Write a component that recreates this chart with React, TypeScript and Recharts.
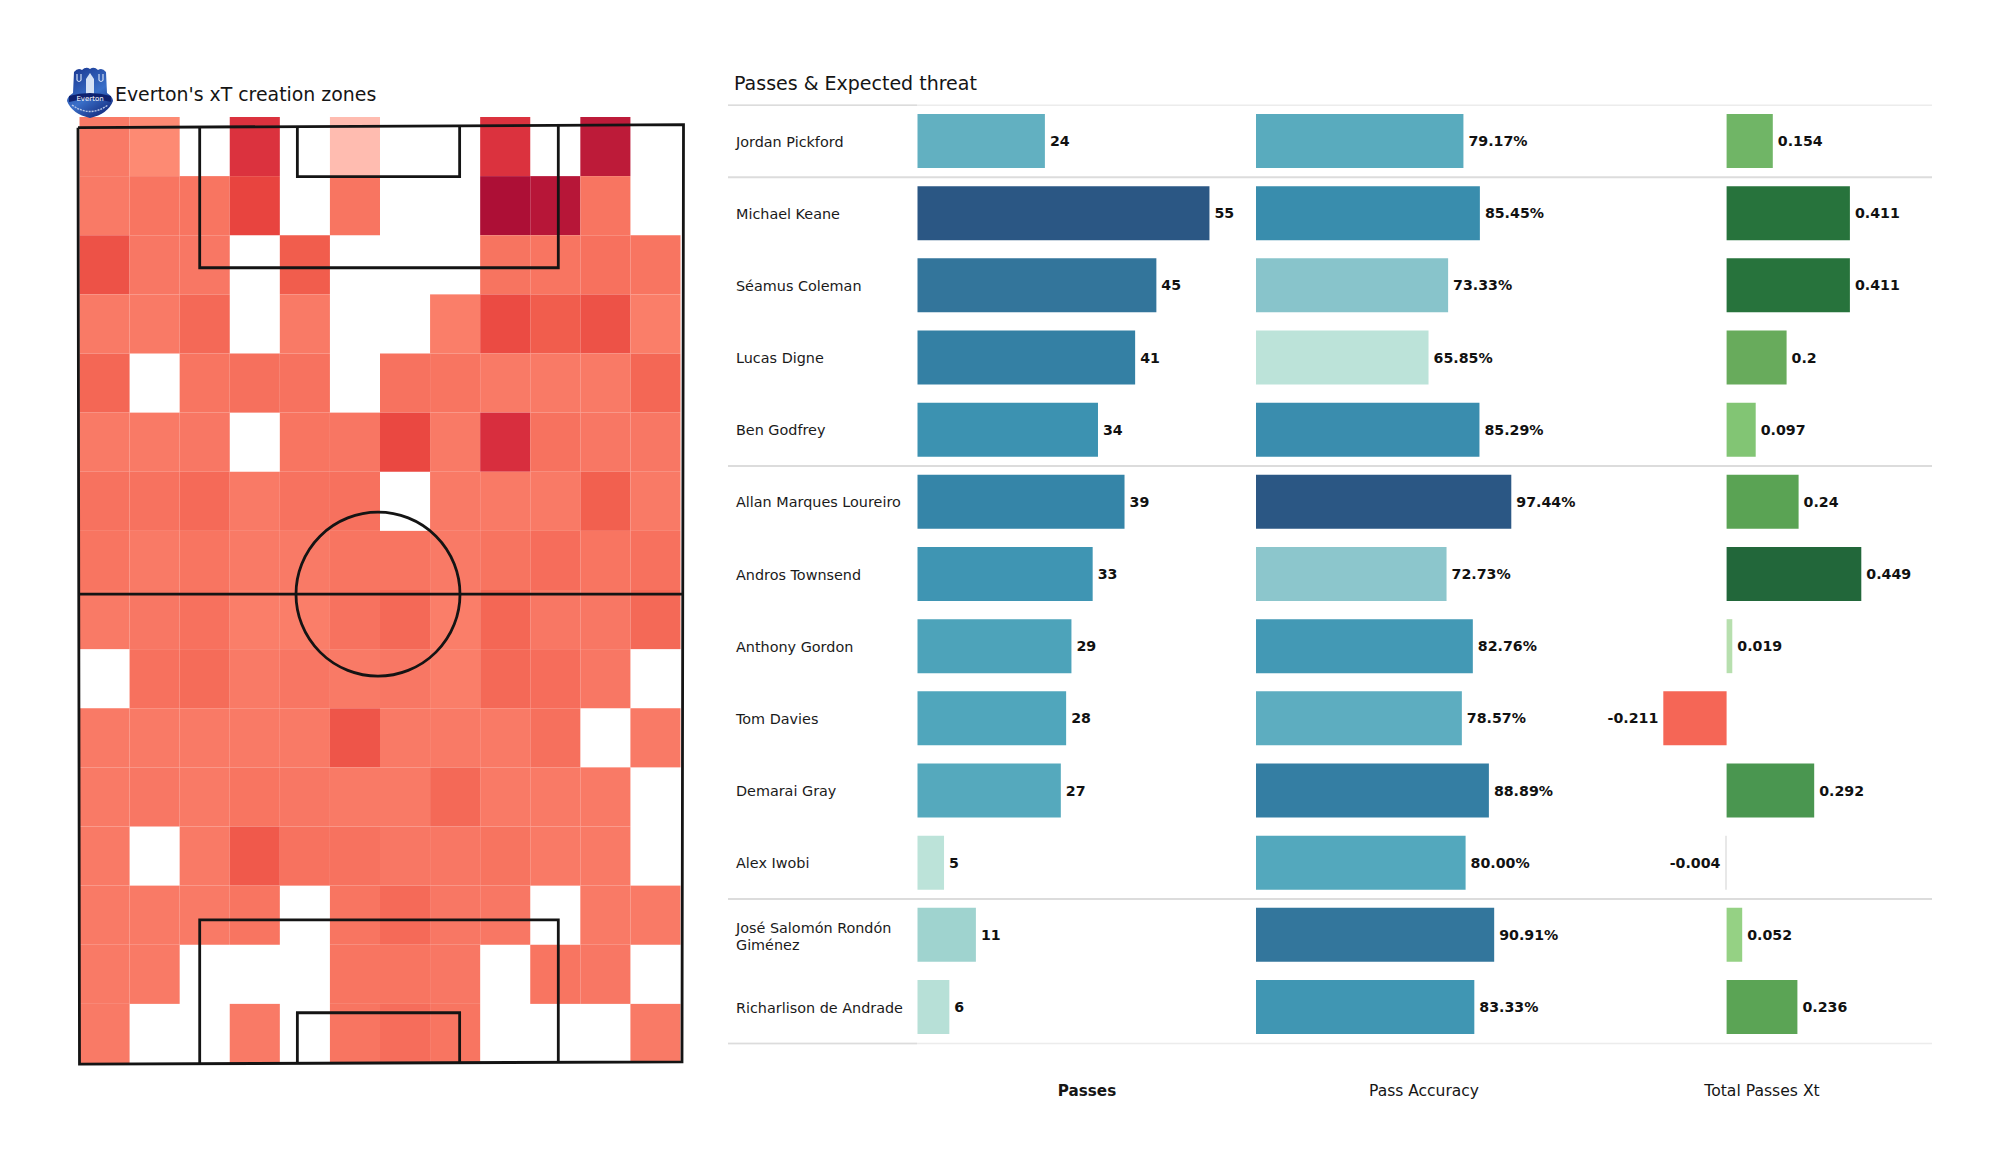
import { BarChart, Bar, Cell, LabelList, Scatter, ScatterChart, XAxis, YAxis } from 'recharts'

const FONT = '"DejaVu Sans", sans-serif'

const players = [
  'Jordan Pickford',
  'Michael Keane',
  'Séamus Coleman',
  'Lucas Digne',
  'Ben Godfrey',
  'Allan Marques Loureiro',
  'Andros Townsend',
  'Anthony Gordon',
  'Tom Davies',
  'Demarai Gray',
  'Alex Iwobi',
  'José Salomón Rondón Giménez',
  'Richarlison de Andrade',
]
const passes = [24, 55, 45, 41, 34, 39, 33, 29, 28, 27, 5, 11, 6]
const accuracy = [79.17, 85.45, 73.33, 65.85, 85.29, 97.44, 72.73, 82.76, 78.57, 88.89, 80.0, 90.91, 83.33]
const passesXt = [0.154, 0.411, 0.411, 0.2, 0.097, 0.24, 0.449, 0.019, -0.211, 0.292, -0.004, 0.052, 0.236]
const groupBreaks = [1, 5, 11]

// xT per zone, top row first, null = nothing created there
const _ = null
const zones = [
  [0.2, 0.12, _, 0.75, _, 0, _, _, 0.75, _, 0.92, _],
  [0.2, 0.24, 0.24, 0.6, _, 0.24, _, _, 1, 0.95, 0.24, _],
  [0.5, 0.22, 0.22, _, 0.42, _, _, _, 0.25, 0.24, 0.27, 0.24],
  [0.2, 0.2, 0.33, _, 0.2, _, _, 0.18, 0.55, 0.42, 0.5, 0.18],
  [0.35, _, 0.24, 0.28, 0.26, _, 0.26, 0.24, 0.2, 0.2, 0.2, 0.35],
  [0.2, 0.2, 0.22, _, 0.24, 0.23, 0.57, 0.2, 0.78, 0.26, 0.22, 0.22],
  [0.26, 0.26, 0.32, 0.2, 0.26, 0.27, _, 0.2, 0.2, 0.2, 0.4, 0.2],
  [0.24, 0.2, 0.24, 0.2, 0.2, 0.24, 0.24, 0.2, 0.25, 0.3, 0.24, 0.27],
  [0.2, 0.22, 0.27, 0.18, 0.18, 0.26, 0.33, 0.18, 0.35, 0.22, 0.22, 0.33],
  [_, 0.27, 0.31, 0.2, 0.23, 0.2, 0.22, 0.18, 0.33, 0.3, 0.22, _],
  [0.2, 0.2, 0.2, 0.2, 0.2, 0.48, 0.2, 0.2, 0.2, 0.28, _, 0.2],
  [0.2, 0.22, 0.2, 0.24, 0.22, 0.2, 0.2, 0.33, 0.2, 0.2, 0.2, _],
  [0.2, _, 0.2, 0.45, 0.26, 0.26, 0.22, 0.22, 0.25, 0.2, 0.2, _],
  [0.2, 0.2, 0.2, 0.24, _, 0.24, 0.32, 0.22, 0.22, _, 0.2, 0.2],
  [0.2, 0.2, _, _, _, 0.24, 0.24, 0.22, _, 0.24, 0.22, _],
  [0.2, _, _, 0.2, _, 0.24, 0.3, 0.24, _, _, _, 0.2],
]

const heatStops: [number, string][] = [
  [0, '#ffbcb0'], [0.12, '#fd8a73'], [0.2, '#f97a66'], [0.4, '#f2604f'],
  [0.6, '#e8443f'], [0.8, '#d62c3e'], [1, '#ad0f36'],
]
const blueStops: [number, string][] = [
  [0, '#bce3d9'], [0.12, '#9fd3cf'], [0.22, '#8cc6cc'], [0.38, '#62b0c1'], [0.46, '#50a6bc'],
  [0.58, '#3c92b1'], [0.68, '#3585a8'], [0.8, '#33759b'], [1, '#2b5784'],
]
const greenStops: [number, string][] = [
  [0.019, '#b7dfae'], [0.052, '#95d184'], [0.097, '#82c574'], [0.154, '#70b566'], [0.2, '#68ab5c'],
  [0.24, '#5aa354'], [0.292, '#4a9650'], [0.411, '#27733c'], [0.449, '#22673a'],
]

function mix(stops: [number, string][], t: number) {
  if (t <= stops[0][0]) return stops[0][1]
  for (let i = 1; i < stops.length; i++) {
    if (t <= stops[i][0]) {
      const [t0, c0] = stops[i - 1]
      const [t1, c1] = stops[i]
      const k = (t - t0) / (t1 - t0)
      const ch = (c: string, p: number) => parseInt(c.slice(p, p + 2), 16)
      const parts = [1, 3, 5].map((p) => Math.round(ch(c0, p) + (ch(c1, p) - ch(c0, p)) * k))
      return `rgb(${parts.join(',')})`
    }
  }
  return stops[stops.length - 1][1]
}

const blueFor = (list: number[], v: number) =>
  mix(blueStops, (v - Math.min(...list)) / (Math.max(...list) - Math.min(...list)))

const xtColor = (v: number) => {
  if (v < -0.1) return '#f56656'
  if (v < 0) return '#d9d9d9'
  return mix(greenStops, v)
}

const heatCells = zones.flatMap((row, r) =>
  row.flatMap((v, c) => (v === null ? [] : [{ x: c + 0.5, y: r + 0.5, v }])),
)
const tableRows = players.map((name, i) => ({ name, passes: passes[i], accuracy: accuracy[i], xt: passesXt[i] }))

const CELL_W = 601 / 12
const CELL_H = 946 / 16
const LINE = '#141414'

const HeatCell = (p: any) => (
  <rect
    x={p.cx - CELL_W / 2}
    y={p.cy - CELL_H / 2}
    width={CELL_W}
    height={CELL_H}
    fill={mix(heatStops, p.payload.v)}
  />
)

// pitch markings in zone units (the pitch in the picture is very slightly skewed)
const pitchLines = [
  [[-0.03, 0.18], [12.06, 0.13], [12.03, 15.98], [0, 16.02], [-0.03, 0.18]],
  [[-0.02, 8.07], [12.03, 8.07]],
  [[2.4, 0.16], [2.4, 2.55], [9.56, 2.55], [9.56, 0.14]],
  [[4.35, 0.16], [4.35, 1.01], [7.59, 1.01], [7.59, 0.14]],
  [[2.4, 16.01], [2.4, 13.58], [9.56, 13.58], [9.56, 15.99]],
  [[4.35, 16.01], [4.35, 15.15], [7.59, 15.15], [7.59, 16]],
]
const centreSpot = [{ x: 5.96, y: 8.07 }]

const noPoint = () => <g />
const CentreCircle = (p: any) => <circle cx={p.cx} cy={p.cy} r={82} fill="none" stroke={LINE} strokeWidth={2.8} />

const NameTick = (p: any) => {
  const name: string = p.payload.value
  const cut = name.length > 24 ? name.lastIndexOf(' ') : -1
  const lines = cut > 0 ? [name.slice(0, cut), name.slice(cut + 1)] : [name]
  return (
    <text x={8} y={p.y} fontFamily={FONT} fontSize={14.4} fill="#1a1a1a">
      {lines.map((l, i) => (
        <tspan key={l} x={8} dy={i === 0 ? (lines.length > 1 ? -2 : 5.5) : 17}>{l}</tspan>
      ))}
    </text>
  )
}

const labelStyle = { fontFamily: FONT, fontSize: 14.2, fontWeight: 700, fill: '#111' }

function Text({ left, top, center, bold, size, children }: any) {
  return (
    <div
      style={{
        position: 'absolute',
        left,
        top,
        transform: center ? 'translate(-50%, -50%)' : 'translateY(-50%)',
        fontFamily: FONT,
        fontSize: size,
        fontWeight: bold ? 700 : 400,
        color: '#151515',
        whiteSpace: 'nowrap',
      }}
    >
      {children}
    </div>
  )
}

function Crest() {
  return (
    <svg style={{ position: 'absolute', left: 66, top: 66 }} width={48} height={53} viewBox="0 0 48 53">
      <defs>
        <linearGradient id="crestBlue" x1="0.2" y1="0" x2="0.8" y2="1">
          <stop offset="0" stopColor="#1b3a94" />
          <stop offset="0.55" stopColor="#3a6fc8" />
          <stop offset="1" stopColor="#12277a" />
        </linearGradient>
      </defs>
      <path
        d="M8 6 Q12 1 16 4 Q20 0 24 3 Q28 0 32 4 Q36 1 40 6 L41 27 Q47 31 47 35 Q42 48 24 52 Q6 48 1 35 Q1 31 7 27 Z"
        fill="url(#crestBlue)"
      />
      <path d="M20 28 L20 13 L24 7 L28 13 L28 28 Z" fill="#d7e2f5" />
      <path d="M11 8 v6 q2 3 4 0 v-6 M33 8 v6 q2 3 4 0 v-6" fill="none" stroke="#cfdcf3" strokeWidth={1.2} />
      <path d="M3 30 Q24 24 45 30 L45 36 Q24 30 3 36 Z" fill="#0f2270" />
      <text x="24" y="34.5" textAnchor="middle" fontFamily={FONT} fontSize={7} fill="#fff">Everton</text>
      <path d="M6 39 Q24 52 42 39" fill="none" stroke="#b9c8e8" strokeWidth={1.4} strokeDasharray="2 1" />
    </svg>
  )
}

const lineStyle = (stroke: string, strokeWidth: number) => ({ stroke, strokeWidth })

export default function App() {
  return (
    <div style={{ position: 'absolute', left: 0, top: 0, width: 2000, height: 1175, background: '#fff', overflow: 'hidden' }}>
      {/* heat map and pitch: one zone of slack on each side so the markings keep the scale */}
      <div style={{ position: 'absolute', left: 20, top: 50 }}>
        <ScatterChart width={720} height={1080} margin={{ left: 9.417, right: 9.417, top: 7.875, bottom: 7.875 }}>
          <XAxis type="number" dataKey="x" domain={[-1, 13]} hide />
          <YAxis type="number" dataKey="y" domain={[-1, 17]} reversed hide />
          <Scatter data={heatCells} shape={HeatCell} isAnimationActive={false} />
          {pitchLines.map((pts, i) => (
            <Scatter
              key={i}
              data={pts.map(([x, y]) => ({ x, y }))}
              line={lineStyle(LINE, 2.8)}
              shape={noPoint}
              isAnimationActive={false}
            />
          ))}
          <Scatter data={centreSpot} shape={CentreCircle} isAnimationActive={false} />
        </ScatterChart>
      </div>

      <Crest />
      <Text left={115} top={93.5} size={18.9}>Everton's xT creation zones</Text>
      <Text left={734} top={83} size={19}>Passes &amp; Expected threat</Text>

      {/* row separators */}
      <div style={{ position: 'absolute', left: 728, top: 100 }}>
        <ScatterChart width={1204} height={950} margin={{ left: 0, right: 0, top: 5.2, bottom: 6.6 }}>
          <XAxis type="number" dataKey="x" domain={[0, 1204]} hide />
          <YAxis type="number" dataKey="y" domain={[0, 13]} reversed hide />
          {[0, 13].map((b) => (
            <Scatter
              key={b}
              data={[{ x: 0, y: b }, { x: 1204, y: b }]}
              line={lineStyle('#ececec', 1.5)}
              shape={noPoint}
              isAnimationActive={false}
            />
          ))}
          {[0, 13].map((b) => (
            <Scatter
              key={b}
              data={[{ x: 0, y: b }, { x: 189, y: b }]}
              line={lineStyle('#dcdcdc', 1.5)}
              shape={noPoint}
              isAnimationActive={false}
            />
          ))}
          {groupBreaks.map((b) => (
            <Scatter
              key={b}
              data={[{ x: 0, y: b }, { x: 1204, y: b }]}
              line={lineStyle('#dcdcdc', 2)}
              shape={noPoint}
              isAnimationActive={false}
            />
          ))}
        </ScatterChart>
      </div>

      {/* passes */}
      <div style={{ position: 'absolute', left: 728, top: 105.2 }}>
        <BarChart width={560} height={938.2} data={tableRows} layout="vertical" margin={{ left: 0, right: 52, top: 0, bottom: 0 }}>
          <XAxis type="number" domain={[0, 60]} hide />
          <YAxis type="category" dataKey="name" width={189.5} axisLine={false} tickLine={false} interval={0} tick={NameTick} />
          <Bar dataKey="passes" barSize={54} isAnimationActive={false}>
            {tableRows.map((r) => (
              <Cell key={r.name} fill={blueFor(passes, r.passes)} />
            ))}
            <LabelList dataKey="passes" position="right" offset={5} style={labelStyle} />
          </Bar>
        </BarChart>
      </div>

      {/* pass accuracy */}
      <div style={{ position: 'absolute', left: 1256, top: 105.2 }}>
        <BarChart width={342} height={938.2} data={tableRows} layout="vertical" margin={{ left: 0, right: 80, top: 0, bottom: 0 }}>
          <XAxis type="number" domain={[0, 100]} hide />
          <YAxis type="category" dataKey="name" hide />
          <Bar dataKey="accuracy" barSize={54} isAnimationActive={false}>
            {tableRows.map((r) => (
              <Cell key={r.name} fill={blueFor(accuracy, r.accuracy)} />
            ))}
            <LabelList
              dataKey="accuracy"
              position="right"
              offset={5}
              style={labelStyle}
              formatter={(v: any) => `${Number(v).toFixed(2)}%`}
            />
          </Bar>
        </BarChart>
      </div>

      {/* total passes xT */}
      <div style={{ position: 'absolute', left: 1546, top: 105.2 }}>
        <BarChart width={400} height={938.2} data={tableRows} layout="vertical" margin={{ left: 90.6, right: 69.4, top: 0, bottom: 0 }}>
          <XAxis type="number" domain={[-0.3, 0.5]} hide />
          <YAxis type="category" dataKey="name" hide />
          <Bar dataKey="xt" barSize={54} isAnimationActive={false}>
            {tableRows.map((r) => (
              <Cell key={r.name} fill={xtColor(r.xt)} />
            ))}
            <LabelList dataKey="xt" position="right" offset={5} style={labelStyle} />
          </Bar>
        </BarChart>
      </div>

      <Text left={1087} top={1090.5} size={15.2} bold center>Passes</Text>
      <Text left={1424} top={1090.5} size={15.5} center>Pass Accuracy</Text>
      <Text left={1762} top={1090.5} size={15.6} center>Total Passes Xt</Text>
    </div>
  )
}
